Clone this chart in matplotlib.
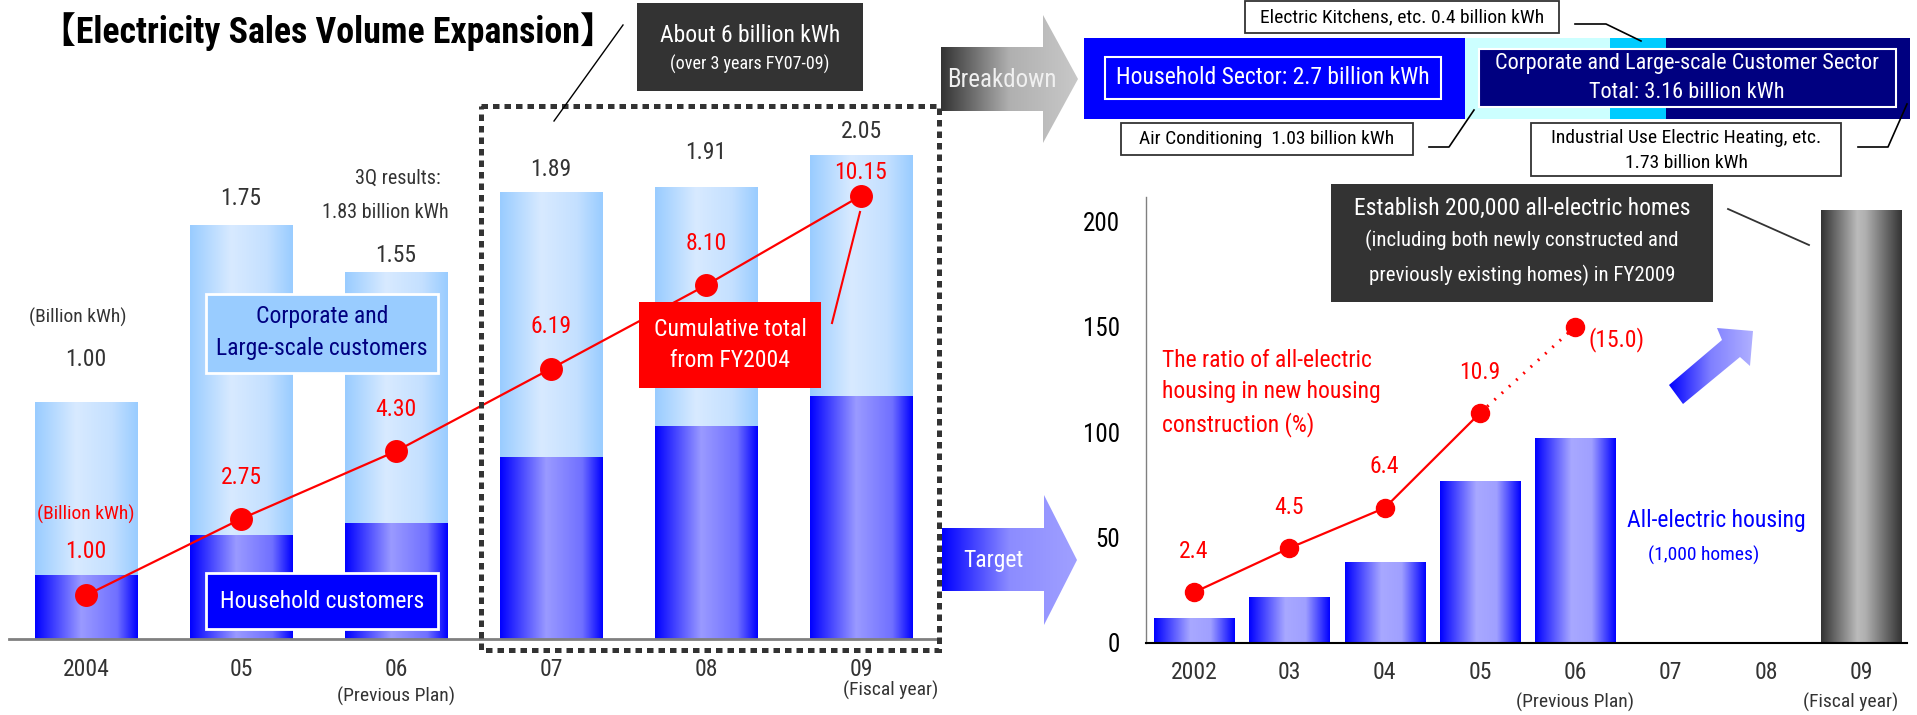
import numpy as np
import matplotlib
matplotlib.use("Agg")
import matplotlib.pyplot as plt
from matplotlib.colors import LinearSegmentedColormap
from matplotlib.patches import Rectangle, Polygon

FONTS = ['Liberation Sans Narrow', 'Arial Narrow', 'Roboto Condensed', 'Noto Sans CJK JP', 'DejaVu Sans']
plt.rcParams['font.family'] = FONTS

W, H = 1917, 715  # canvas size in pixels (dpi 100)

### Electricity sales volume expansion (billion kWh)
sales_years = ["2004", "05", "06", "07", "08", "09"]
sales_total = [1.00, 1.75, 1.55, 1.89, 1.91, 2.05]
sales_household = [0.27, 0.44, 0.49, 0.77, 0.90, 1.03]
sales_cumulative = [1.00, 2.75, 4.30, 6.19, 8.10, 10.15]

### Breakdown of the FY07-09 expansion (billion kWh)
breakdown_values = [2.7, 1.03, 0.4, 1.73]  # household, air conditioning, electric kitchens, industrial heating
breakdown_colors = ["#0000FF", "#CCFFFF", "#00CCFF", "#000080"]

### All-electric housing (1,000 homes) and ratio in new housing construction (%)
home_years = ["2002", "03", "04", "05", "06", "07", "08", "09"]
home_counts = [11.4, 21.8, 38.0, 76.7, 96.7]
home_target = 205
home_ratio = [2.4, 4.5, 6.4, 10.9, 15.0]

DARK = "#333333"


def fig_box(x0, y0, x1, y1):
    # pixel box (top-left origin) -> figure fraction rect
    return [x0 / W, 1 - y1 / H, (x1 - x0) / W, (y1 - y0) / H]


def pt(px):
    return px * 0.72


def gradient_bars(ax, bars, stops, colors, zorder=2):
    cmap = LinearSegmentedColormap.from_list("grad", list(zip(stops, colors)))
    grad = np.linspace(0, 1, 256).reshape(1, -1)
    for b in bars:
        x0, y0, w, h = b.get_x(), b.get_y(), b.get_width(), b.get_height()
        ax.imshow(grad, cmap=cmap, extent=(x0, x0 + w, y0, y0 + h), aspect='auto',
                  origin='lower', interpolation='bilinear', zorder=zorder)
        b.set_facecolor('none')
        b.set_linewidth(0)


def gradient_patch(ax, patch, colors, extent, zorder=3):
    ax.add_patch(patch)
    patch.set_facecolor('none')
    patch.set_linewidth(0)
    cmap = LinearSegmentedColormap.from_list("grad", colors)
    grad = np.linspace(0, 1, 256).reshape(1, -1)
    im = ax.imshow(grad, cmap=cmap, extent=extent, aspect='auto', interpolation='bilinear', zorder=zorder)
    im.set_clip_path(patch)


fig = plt.figure(figsize=(W / 100, H / 100), dpi=100)

### Left chart: stacked sales bars with the cumulative line
ax1 = fig.add_axes(fig_box(9, 20, 940, 639))
x = np.arange(len(sales_years))
corporate = [t - h for t, h in zip(sales_total, sales_household)]
b_house = ax1.bar(x, sales_household, width=0.66)
b_corp = ax1.bar(x, corporate, bottom=sales_household, width=0.66)
gradient_bars(ax1, b_house, [0, 0.45, 0.8, 1], ["#0000FF", "#9A9AFF", "#7070FF", "#0000FF"])
gradient_bars(ax1, b_corp, [0, 0.4, 0.75, 1], ["#99CCFF", "#D8EAFF", "#C4E0FF", "#99CCFF"])
ax1.set_xlim(-0.497, 5.51)
ax1.set_ylim(0, 2.62)
for s in ["left", "top", "right"]:
    ax1.spines[s].set_visible(False)
ax1.spines["bottom"].set_color("#808080")
ax1.spines["bottom"].set_linewidth(2)
ax1.set_yticks([])
ax1.set_xticks(x)
ax1.set_xticklabels(sales_years, fontsize=17, color=DARK)
ax1.tick_params(axis='x', length=0, pad=pt(19))

# value labels above the bars
top_offsets = [43, 27, 17, 23, 35, 23]
for i, v in enumerate(sales_total):
    ax1.annotate(f"{v:.2f}", (i, v), xytext=(0, pt(top_offsets[i])), textcoords='offset points',
                 ha='center', va='center', fontsize=17, color=DARK)
ax1.annotate("(Billion kWh)", (0, sales_total[0]), xytext=(-pt(8), pt(85)), textcoords='offset points',
             ha='center', va='center', fontsize=14, color=DARK)
ax1.annotate("(Previous Plan)", (2, 0), xytext=(0, -pt(57)), textcoords='offset points',
             ha='center', va='center', fontsize=14, color=DARK)
ax1.annotate("(Fiscal year)", (5, 0), xytext=(pt(30), -pt(51)), textcoords='offset points',
             ha='center', va='center', fontsize=14, color=DARK)

ax1b = ax1.twinx()
ax1b.set_ylim(0, 2.62 * 5.41)
ax1b.axis('off')
ax1b.plot(x, sales_cumulative, color="red", lw=1.6, marker='o', markersize=15.5, zorder=5)
cum_offsets = [44, 41, 42, 42, 42, 23]
for i, v in enumerate(sales_cumulative):
    ax1b.annotate(f"{v:.2f}", (i, v), xytext=(0, pt(cum_offsets[i])), textcoords='offset points',
                  ha='center', va='center', fontsize=17, color="red")
ax1b.annotate("(Billion kWh)", (0, sales_cumulative[0]), xytext=(0, pt(81)), textcoords='offset points',
              ha='center', va='center', fontsize=14, color="red")

### Breakdown bar
axb = fig.add_axes(fig_box(1084, 38, 1910, 119))
left = 0
for v, c in zip(breakdown_values, breakdown_colors):
    axb.barh(0, v, left=left, height=1, color=c, linewidth=0)
    left += v
axb.set_xlim(0, sum(breakdown_values))
axb.set_ylim(-0.5, 0.5)
axb.axis('off')

### Right chart: all-electric housing bars with the ratio line
ax2 = fig.add_axes(fig_box(1146, 197, 1907, 643))
hx = np.arange(len(home_counts))
b_home = ax2.bar(hx, home_counts, width=0.84)
gradient_bars(ax2, b_home, [0, 0.45, 0.7, 1], ["#0000FF", "#A8A8FF", "#A0A0FF", "#0000FF"])
b_target = ax2.bar([len(home_years) - 1], [home_target], width=0.84)
gradient_bars(ax2, b_target, [0, 0.45, 0.55, 1], ["#333333", "#BBBBBB", "#B0B0B0", "#333333"])
ax2.set_xlim(-0.504, 7.48)
ax2.set_ylim(0, 211.4)
ax2.spines["top"].set_visible(False)
ax2.spines["right"].set_visible(False)
ax2.spines["left"].set_color("#808080")
ax2.spines["left"].set_linewidth(1)
ax2.spines["bottom"].set_color("black")
ax2.spines["bottom"].set_linewidth(1.5)
ax2.set_yticks([0, 50, 100, 150, 200])
ax2.tick_params(axis='y', length=0, pad=pt(26), labelsize=18)
ax2.set_xticks(np.arange(len(home_years)))
ax2.set_xticklabels(home_years, fontsize=17, color=DARK)
ax2.tick_params(axis='x', length=0, pad=pt(18))
ax2.annotate("(Previous Plan)", (4, 0), xytext=(0, -pt(59)), textcoords='offset points',
             ha='center', va='center', fontsize=14, color=DARK)
ax2.annotate("(Fiscal year)", (7, 0), xytext=(-pt(11), -pt(59)), textcoords='offset points',
             ha='center', va='center', fontsize=14, color=DARK)

ax2b = ax2.twinx()
ax2b.set_ylim(0, 21.14)
ax2b.axis('off')
rx = np.arange(len(home_ratio))
ax2b.plot(rx[:-1], home_ratio[:-1], color="red", lw=1.6, zorder=5)
ax2b.plot(rx[-2:], home_ratio[-2:], color="red", lw=2.2, linestyle=(0, (0.6, 2.6)), zorder=5)
ax2b.plot(rx, home_ratio, 'o', color="red", markersize=13, zorder=6)
for i, v in enumerate(home_ratio[:-1]):
    ax2b.annotate(f"{v:.1f}", (i, v), xytext=(0, pt(41)), textcoords='offset points',
                  ha='center', va='center', fontsize=17, color="red")
ax2b.annotate(f"({home_ratio[-1]:.1f})", (rx[-1], home_ratio[-1]), xytext=(pt(13), -pt(13)),
              textcoords='offset points', ha='left', va='center', fontsize=17, color="red")

### Overlay for titles, callouts and arrows (pixel coordinates)
ov = fig.add_axes([0, 0, 1, 1], zorder=10)
ov.patch.set_alpha(0)

ov.text(40, 32, "【Electricity Sales Volume Expansion】", fontsize=25.8, fontweight='bold',
        ha='left', va='center', color="black")

# About 6 billion kWh box
ov.add_patch(Rectangle((637, 3), 226, 88, fc=DARK, ec="none"))
ov.text(750, 35, "About 6 billion kWh", fontsize=17, color="white", ha='center', va='center')
ov.text(750, 64, "(over 3 years FY07-09)", fontsize=13, color="white", ha='center', va='center')
ov.plot([623, 554], [25, 121], color="black", lw=1)

# dashed frame round FY07-09
ov.add_patch(Rectangle((481, 106), 458, 544, fc="none", ec=DARK, lw=3.6, linestyle=(0, (1.3, 1.0))))

# legend-like boxes
ov.add_patch(Rectangle((206, 294), 232, 79, fc="#99CCFF", ec="white", lw=2, zorder=4))
ov.text(322, 333, "Corporate and\nLarge-scale customers", fontsize=17, color="#000080",
        ha='center', va='center', linespacing=1.5, zorder=5)
ov.add_patch(Rectangle((206, 573), 232, 56, fc="#0000FF", ec="white", lw=2, zorder=4))
ov.text(322, 601, "Household customers", fontsize=17, color="white", ha='center', va='center', zorder=5)

ov.add_patch(Rectangle((639, 302), 182, 86, fc="red", ec="none", zorder=4))
ov.text(730, 345, "Cumulative total\nfrom FY2004", fontsize=17, color="white",
        ha='center', va='center', linespacing=1.45, zorder=5)
ov.plot([832, 860], [323, 212], color="red", lw=1.5)

ov.text(398, 178, "3Q results:", fontsize=14.5, color=DARK, ha='center', va='center')
ov.text(385, 212, "1.83 billion kWh", fontsize=14.5, color=DARK, ha='center', va='center')

# Breakdown arrow
arrow_bd = Polygon([(941, 47), (1043, 47), (1043, 15), (1078, 79), (1043, 143), (1043, 111), (941, 111)])
gradient_patch(ov, arrow_bd, ["#333333", "#B0B0B0", "#C8C8C8"], (941, 1078, 143, 15))
ov.text(1002, 80, "Breakdown", fontsize=18, color="#F0F0F0", ha='center', va='center', zorder=5)

# Target arrow
arrow_tg = Polygon([(942, 528), (1044, 528), (1044, 495), (1077, 560), (1044, 625), (1044, 591), (942, 591)])
gradient_patch(ov, arrow_tg, ["#0000FF", "#8C8CFF", "#A0A0FF"], (942, 1077, 625, 495))
ov.text(993, 560, "Target", fontsize=17, color="white", ha='center', va='center', zorder=5)

# breakdown labels
household_total = breakdown_values[0]
corporate_total = sum(breakdown_values[1:])
ov.add_patch(Rectangle((1105, 57), 336, 42, fc="#0000FF", ec="white", lw=1.5))
ov.text(1273, 78, f"Household Sector: {household_total:.1f} billion kWh", fontsize=17,
        color="white", ha='center', va='center')
ov.add_patch(Rectangle((1479, 49), 417, 58, fc="#000080", ec="white", lw=1.5))
ov.text(1687, 64, "Corporate and Large-scale Customer Sector", fontsize=16, color="white",
        ha='center', va='center')
ov.text(1687, 93, f"Total: {corporate_total:.2f} billion kWh", fontsize=16, color="white",
        ha='center', va='center')

for (bx0, by0, bx1, by1) in [(1245, 1, 1559, 33), (1121, 123, 1413, 155), (1531, 123, 1841, 176)]:
    ov.add_patch(Rectangle((bx0, by0), bx1 - bx0, by1 - by0, fc="white", ec=DARK, lw=1.3))
ov.text(1402, 17, f"Electric Kitchens, etc. {breakdown_values[2]} billion kWh", fontsize=14,
        color="black", ha='center', va='center')
ov.text(1267, 139, f"Air Conditioning  {breakdown_values[1]:.2f} billion kWh", fontsize=14,
        color="black", ha='center', va='center')
ov.text(1686, 138, "Industrial Use Electric Heating, etc.", fontsize=14, color="black",
        ha='center', va='center')
ov.text(1686, 163, f"{breakdown_values[3]:.2f} billion kWh", fontsize=14, color="black",
        ha='center', va='center')
ov.plot([1575, 1606, 1641], [24, 24, 41], color="black", lw=1.2)
ov.plot([1429, 1449, 1474], [147, 147, 110], color="black", lw=1.2)
ov.plot([1858, 1888, 1907], [147, 147, 104], color="black", lw=1.2)

# right chart annotations
ov.text(1162, 393, "The ratio of all-electric\nhousing in new housing\nconstruction (%)", fontsize=17,
        color="red", ha='left', va='center', linespacing=1.45)
ov.text(1716, 520, "All-electric housing", fontsize=17, color="#0000FF", ha='center', va='center')
ov.text(1704, 555, "(1,000 homes)", fontsize=14, color="#0000FF", ha='center', va='center')

ov.add_patch(Rectangle((1331, 184), 382, 118, fc=DARK, ec="none"))
ov.text(1522, 208, "Establish 200,000 all-electric homes", fontsize=17, color="white",
        ha='center', va='center')
ov.text(1522, 240, "(including both newly constructed and", fontsize=15, color="white",
        ha='center', va='center')
ov.text(1522, 275, "previously existing homes) in FY2009", fontsize=15, color="white",
        ha='center', va='center')
ov.plot([1728, 1809], [209, 245], color=DARK, lw=1.3)

arrow_up = Polygon([(1669, 385), (1722, 340), (1717, 328), (1753, 331), (1750, 366), (1740, 357), (1683, 404)])
gradient_patch(ov, arrow_up, ["#0000FF", "#8080FF", "#B0B0FF"], (1669, 1753, 404, 328))

ov.set_xlim(0, W)
ov.set_ylim(H, 0)
ov.axis('off')

fig.savefig("out.png", dpi=100)
